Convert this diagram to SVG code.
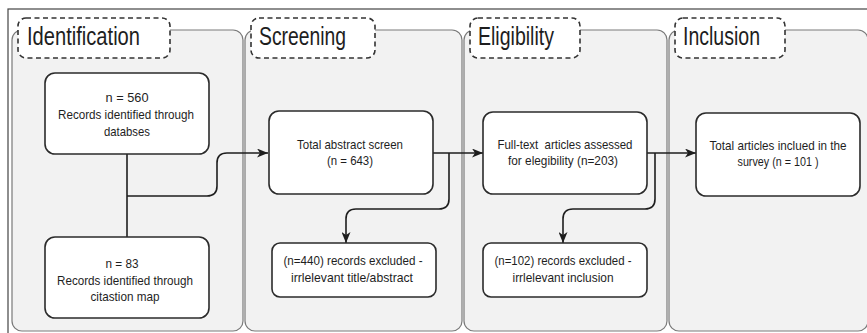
<svg xmlns="http://www.w3.org/2000/svg" width="867" height="333" viewBox="0 0 867 333">
  <defs>
    <marker id="arrow" viewBox="0 0 11 9" refX="11" refY="4.5" markerWidth="11" markerHeight="9" markerUnits="userSpaceOnUse" orient="auto">
      <path d="M0,0 L11,4.5 L0,9 L3,4.5 z" fill="#1e1e1e"/>
    </marker>
    <style>
      .frame { fill: #ffffff; stroke: #444; stroke-width: 1.2; }
      .lane { fill: #f2f2f2; stroke: #7a7a7a; stroke-width: 1.2; }
      .head { fill: #ffffff; stroke: #333; stroke-width: 1.6; stroke-dasharray: 5 3.5; }
      .head-text { font-family: "Liberation Sans", Arial, sans-serif; font-size: 25px; fill: #1e1e1e; }
      .box { fill: #ffffff; stroke: #2b2b2b; stroke-width: 1.6; }
      .txt { font-family: "Liberation Sans", Arial, sans-serif; font-size: 13.5px; fill: #1e1e1e; text-anchor: middle; }
      .link { fill: none; stroke: #1e1e1e; stroke-width: 1.6; }
    </style>
  </defs>

  <!-- outer frame -->
  <rect class="frame" x="8" y="9" width="880" height="340"/>

  <!-- swimlanes -->
  <g id="lane-identification">
    <rect class="lane" x="12" y="30" width="231" height="301" rx="10"/>
    <rect class="head" x="18" y="18" width="152" height="40" rx="8"/>
    <text class="head-text" x="27" y="45" textLength="113" lengthAdjust="spacingAndGlyphs">Identification</text>
  </g>
  <g id="lane-screening">
    <rect class="lane" x="245" y="30" width="217" height="301" rx="10"/>
    <rect class="head" x="251" y="18" width="124" height="40" rx="8"/>
    <text class="head-text" x="259" y="45" textLength="87" lengthAdjust="spacingAndGlyphs">Screening</text>
  </g>
  <g id="lane-eligibility">
    <rect class="lane" x="464" y="30" width="203" height="301" rx="10"/>
    <rect class="head" x="470" y="18" width="110" height="40" rx="8"/>
    <text class="head-text" x="478" y="45" textLength="76" lengthAdjust="spacingAndGlyphs">Eligibility</text>
  </g>
  <g id="lane-inclusion">
    <rect class="lane" x="669" y="30" width="199" height="301" rx="10"/>
    <rect class="head" x="675" y="18" width="110" height="40" rx="8"/>
    <text class="head-text" x="683" y="45" textLength="77" lengthAdjust="spacingAndGlyphs">Inclusion</text>
  </g>

  <!-- connectors -->
  <g id="connectors">
    <path class="link" d="M127,154 V237"/>
    <path class="link" d="M127,196 H207 Q217,196 217,186 V163 Q217,153 227,153 H268" marker-end="url(#arrow)"/>
    <path class="link" d="M433,153 H483" marker-end="url(#arrow)"/>
    <path class="link" d="M449,153 V199 Q449,209 439,209 H356 Q346,209 346,219 V243" marker-end="url(#arrow)"/>
    <path class="link" d="M647,153 H696" marker-end="url(#arrow)"/>
    <path class="link" d="M655,153 V199 Q655,209 645,209 H573 Q563,209 563,219 V243" marker-end="url(#arrow)"/>
  </g>

  <!-- nodes -->
  <g id="node-databases">
    <rect class="box" x="45" y="73" width="164" height="81" rx="10"/>
    <text class="txt" x="127" y="102" textLength="43" lengthAdjust="spacingAndGlyphs">n = 560</text>
    <text class="txt" x="126" y="119" textLength="136" lengthAdjust="spacingAndGlyphs">Records identified through</text>
    <text class="txt" x="127" y="136" textLength="46" lengthAdjust="spacingAndGlyphs">databses</text>
  </g>
  <g id="node-citation-map">
    <rect class="box" x="45" y="237" width="164" height="81" rx="10"/>
    <text class="txt" x="122" y="268" textLength="33" lengthAdjust="spacingAndGlyphs">n = 83</text>
    <text class="txt" x="125" y="285" textLength="136" lengthAdjust="spacingAndGlyphs">Records identified through</text>
    <text class="txt" x="125" y="301" textLength="69" lengthAdjust="spacingAndGlyphs">citastion map</text>
  </g>
  <g id="node-abstract-screen">
    <rect class="box" x="269" y="111" width="164" height="83" rx="10"/>
    <text class="txt" x="350" y="149" textLength="106" lengthAdjust="spacingAndGlyphs">Total abstract screen</text>
    <text class="txt" x="350" y="165" textLength="46" lengthAdjust="spacingAndGlyphs">(n = 643)</text>
  </g>
  <g id="node-excluded-abstract">
    <rect class="box" x="272" y="243" width="164" height="54" rx="8"/>
    <text class="txt" x="353" y="265" textLength="139" lengthAdjust="spacingAndGlyphs">(n=440) records excluded -</text>
    <text class="txt" x="352" y="282" textLength="122" lengthAdjust="spacingAndGlyphs">irrlelevant title/abstract</text>
  </g>
  <g id="node-full-text">
    <rect class="box" x="483" y="112" width="164" height="82" rx="10"/>
    <text class="txt" x="565" y="149" textLength="135" lengthAdjust="spacingAndGlyphs" xml:space="preserve">Full-text  articles assessed</text>
    <text class="txt" x="563" y="165" textLength="110" lengthAdjust="spacingAndGlyphs">for elegibility (n=203)</text>
  </g>
  <g id="node-excluded-inclusion">
    <rect class="box" x="483" y="243" width="164" height="54" rx="8"/>
    <text class="txt" x="563" y="265" textLength="137" lengthAdjust="spacingAndGlyphs">(n=102) records excluded -</text>
    <text class="txt" x="563" y="282" textLength="101" lengthAdjust="spacingAndGlyphs">irrlelevant inclusion</text>
  </g>
  <g id="node-included">
    <rect class="box" x="696" y="113" width="164" height="83" rx="10"/>
    <text class="txt" x="778" y="150" textLength="137" lengthAdjust="spacingAndGlyphs">Total articles inclued in the</text>
    <text class="txt" x="778" y="166" textLength="81" lengthAdjust="spacingAndGlyphs">survey (n = 101 )</text>
  </g>
</svg>
